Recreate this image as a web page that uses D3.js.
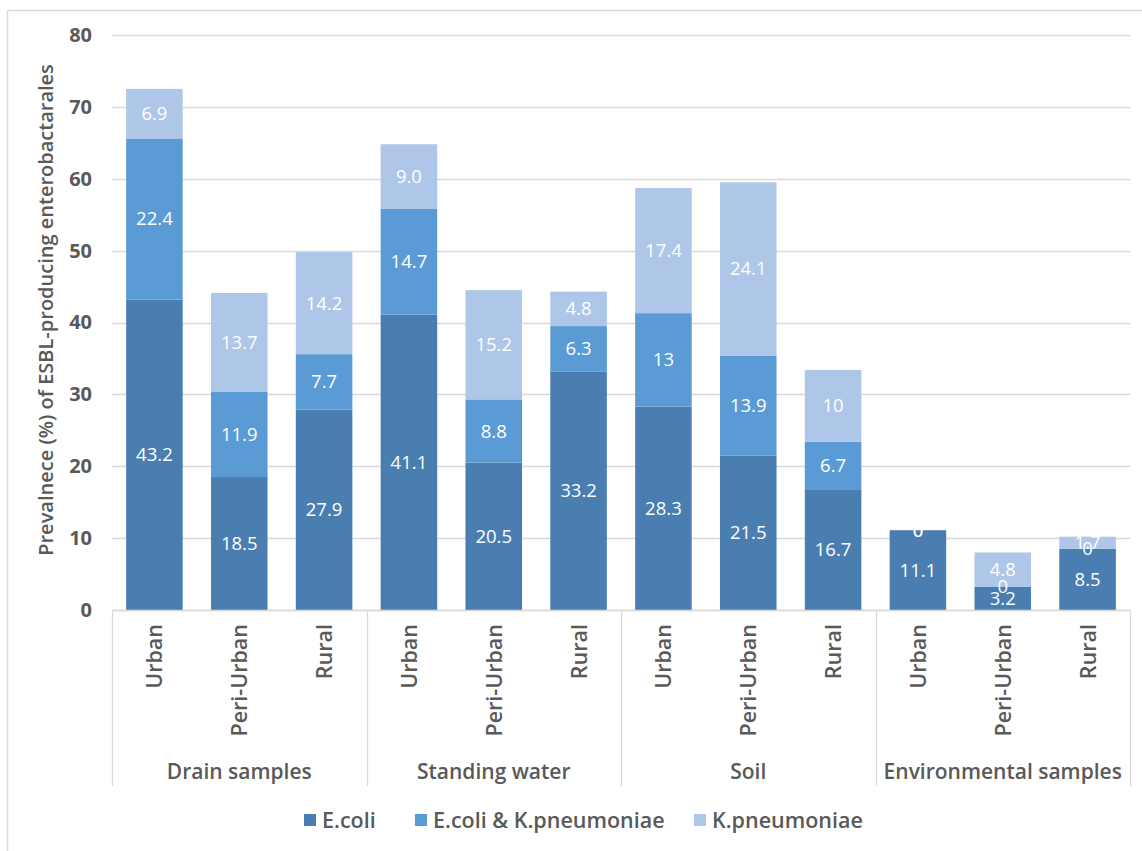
<!DOCTYPE html>
<html>
<head>
<meta charset="utf-8">
<script src="https://cdn.jsdelivr.net/npm/d3@7"></script>
<style>
  html, body { margin: 0; padding: 0; background: #fff; }
  svg { display: block; font-family: "Open Sans", "Noto Sans", sans-serif; }
</style>
</head>
<body>
<svg id="chart" width="1142" height="851"></svg>
<script>
// Sample groups and sites (two-level category axis)
const groups = ["Drain samples", "Standing water", "Soil", "Environmental samples"];
const sites = ["Urban", "Peri-Urban", "Rural"];

// Prevalence (%) per bar, in order group by group, site by site.
// Kept as written so data labels read exactly as the values.
const ecoli      = ["43.2", "18.5", "27.9", "41.1", "20.5", "33.2", "28.3", "21.5", "16.7", "11.1", "3.2", "8.5"];
const ecoliKpneu = ["22.4", "11.9", "7.7",  "14.7", "8.8",  "6.3",  "13",   "13.9", "6.7",  "0",    "0",   "0"];
const kpneu      = ["6.9",  "13.7", "14.2", "9.0",  "15.2", "4.8",  "17.4", "24.1", "10",   "0",    "4.8", "1.7"];

const seriesNames = ["E.coli", "E.coli & K.pneumoniae", "K.pneumoniae"];
const seriesColors = ["#4a7eb1", "#5b9bd5", "#aec6e7"];
const yTicks = [0, 10, 20, 30, 40, 50, 60, 70, 80];
const yTitle = "Prevalnece (%) of ESBL-producing enterobactarales";

const seriesRaw = [ecoli, ecoliKpneu, kpneu];

// Build rows: one per bar
const rows = [];
groups.forEach((g, gi) => {
  sites.forEach((s, si) => {
    const i = gi * sites.length + si;
    const row = { key: g + "|" + s, group: g, site: s };
    seriesNames.forEach((n, k) => { row[n] = +seriesRaw[k][i]; row["label_" + n] = seriesRaw[k][i]; });
    rows.push(row);
  });
});

const svg = d3.select("#chart");
const plotLeft = 112, plotRight = 1130;
const plotW = plotRight - plotLeft;
const y0 = 610, yTop = 35;

const textGray = "#595959";
const gridGray = "#d9d9d9";
const labelFont = "21px";

// Outer chart border
svg.append("rect")
  .attr("x", 7.5).attr("y", 10.5)
  .attr("width", 1200).attr("height", 900)
  .attr("fill", "none").attr("stroke", gridGray).attr("stroke-width", 1.5);

const x = d3.scaleBand()
  .domain(rows.map(d => d.key))
  .range([plotLeft, plotRight])
  .paddingInner(1 / 3).paddingOuter(1 / 6);

const y = d3.scaleLinear().domain([0, 80]).range([y0, yTop]);

// Gridlines
svg.append("g")
  .selectAll("line")
  .data(yTicks)
  .join("line")
  .attr("x1", plotLeft).attr("x2", plotRight)
  .attr("y1", d => Math.round(y(d)) + 0.5).attr("y2", d => Math.round(y(d)) + 0.5)
  .attr("stroke", gridGray).attr("stroke-width", 1.3);

// Y axis tick labels
const yAxis = d3.axisLeft(y).tickValues(yTicks).tickSize(0).tickPadding(0);
const gy = svg.append("g").attr("transform", `translate(${plotLeft - 20},0)`).call(yAxis);
gy.select(".domain").remove();
gy.selectAll("text")
  .attr("fill", textGray)
  .style("font-size", "20px")
  .style("font-weight", "700")
  .style("font-family", "'Open Sans', sans-serif");

// Y axis title
svg.append("text")
  .attr("transform", `translate(53,${310}) rotate(-90)`)
  .attr("text-anchor", "middle")
  .attr("fill", textGray)
  .style("font-size", "20px")
  .style("font-weight", "600")
  .text(yTitle);

// Stacked bars
const stack = d3.stack().keys(seriesNames);
const stacked = stack(rows);

const layers = svg.append("g").selectAll("g")
  .data(stacked)
  .join("g")
  .attr("fill", (d, i) => seriesColors[i]);

layers.selectAll("rect")
  .data(d => d)
  .join("rect")
  .attr("x", d => x(d.data.key))
  .attr("width", x.bandwidth())
  .attr("y", d => y(d[1]))
  .attr("height", d => y(d[0]) - y(d[1]));

// Data labels, centred in each segment
const labels = svg.append("g");
stacked.forEach((layer, k) => {
  labels.selectAll(null)
    .data(layer)
    .join("text")
    .attr("x", d => x(d.data.key) + x.bandwidth() / 2)
    .attr("y", d => y((d[0] + d[1]) / 2))
    .attr("dy", "0.35em")
    .attr("text-anchor", "middle")
    .attr("fill", "#ffffff")
    .style("font-size", "18.5px")
    .text(d => d.data["label_" + layer.key]);
});

// Category axis: baseline, group separators, labels
const groupW = plotW / groups.length;
svg.append("line")
  .attr("x1", plotLeft).attr("x2", plotRight)
  .attr("y1", y0 + 0.5).attr("y2", y0 + 0.5)
  .attr("stroke", gridGray).attr("stroke-width", 1.3);

svg.append("g").selectAll("line")
  .data(d3.range(groups.length + 1))
  .join("line")
  .attr("x1", i => Math.round(plotLeft + i * groupW) + 0.5)
  .attr("x2", i => Math.round(plotLeft + i * groupW) + 0.5)
  .attr("y1", y0).attr("y2", 786)
  .attr("stroke", gridGray).attr("stroke-width", 1.3);

svg.append("g").selectAll("text")
  .data(rows)
  .join("text")
  .attr("transform", d => `translate(${x(d.key) + x.bandwidth() / 2 + 8},624) rotate(-90)`)
  .attr("text-anchor", "end")
  .attr("fill", textGray)
  .style("font-size", "21.5px")
  .style("font-weight", "600")
  .text(d => d.site);

svg.append("g").selectAll("text")
  .data(groups)
  .join("text")
  .attr("x", (g, i) => plotLeft + (i + 0.5) * groupW)
  .attr("y", 779)
  .attr("text-anchor", "middle")
  .attr("fill", textGray)
  .style("font-size", labelFont)
  .style("font-weight", "600")
  .text(g => g);

// Legend
const legendX = [304, 415, 694];
const legend = svg.append("g").selectAll("g")
  .data(seriesNames)
  .join("g")
  .attr("transform", (d, i) => `translate(${legendX[i]},814)`);
legend.append("rect")
  .attr("width", 12).attr("height", 12)
  .attr("fill", (d, i) => seriesColors[i]);
legend.append("text")
  .attr("x", 18).attr("y", 6).attr("dy", "0.35em")
  .attr("fill", textGray)
  .style("font-size", "21.5px")
  .style("font-weight", "600")
  .text(d => d);
</script>
</body>
</html>
